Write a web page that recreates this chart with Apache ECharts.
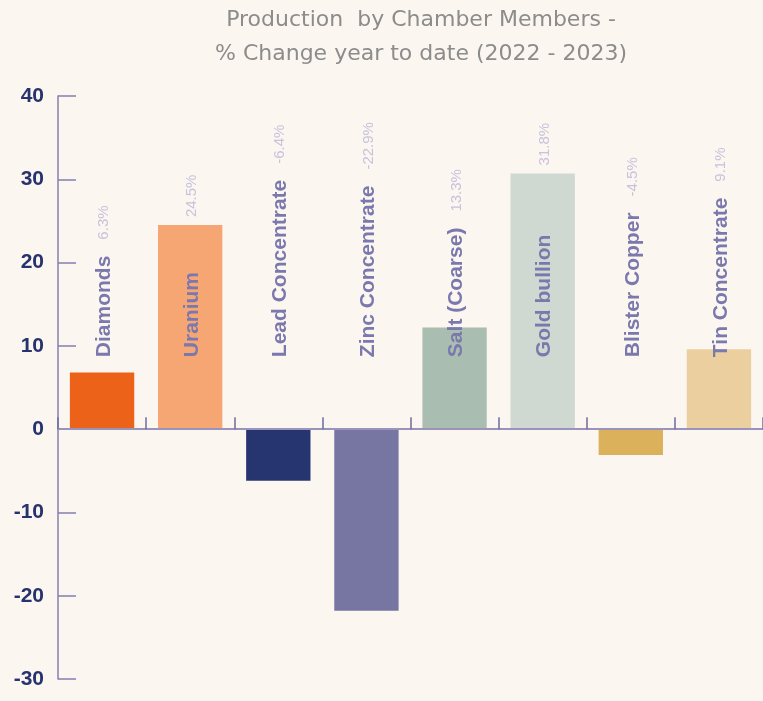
<!DOCTYPE html>
<html>
<head>
<meta charset="utf-8">
<script src="https://cdn.jsdelivr.net/npm/echarts@6/dist/echarts.min.js"></script>
<style>
    html, body { margin: 0; padding: 0; background: #fbf6f0; }
    #main { width: 763px; height: 701px; }
</style>
</head>
<body>
<div id="main"></div>
<script>
/* data */
var categories = ['Diamonds', 'Uranium', 'Lead Concentrate', 'Zinc Concentrate',
    'Salt (Coarse)', 'Gold bullion', 'Blister Copper', 'Tin Concentrate'];
var barValues = [6.8, 24.5, -6.2, -21.8, 12.2, 30.7, -3.1, 9.6];
var changeLabels = ['6.3%', '24.5%', '-6.4%', '-22.9%', '13.3%', '31.8%', '-4.5%', '9.1%'];
var barColors = ['#ec6218', '#f6a673', '#263570', '#7775a2',
    '#a9bdb0', '#cfd9d1', '#dcb15c', '#ebcf9f'];
var yTicks = [-30, -20, -10, 0, 10, 20, 30, 40];

var NAME_FONT = 'bold 21px "Liberation Sans"';
var VALUE_FONT = '15px "Liberation Sans"';

var chart = echarts.init(document.getElementById('main'));

var measureCtx = document.createElement('canvas').getContext('2d');
function textWidth(str, font) {
    measureCtx.font = font;
    return measureCtx.measureText(str).width;
}

/* rotated category name above the zero line, change label after it
   (pushed above the bar when the name sits inside a tall bar) */
function renderLabel(params, api) {
    var idx = api.value(0);
    var base = api.coord([idx, 0]);
    var top = api.coord([idx, Math.max(barValues[idx], 0)]);
    var start = base[1] - 72;
    var nameLen = textWidth(categories[idx], NAME_FONT);
    var valueY = Math.min(start - nameLen - 16, top[1] - 8);
    return {
        type: 'group',
        children: [{
            type: 'text',
            x: base[0] + 2,
            y: start,
            rotation: Math.PI / 2,
            style: {
                text: categories[idx],
                font: NAME_FONT,
                fill: '#7b78ad',
                align: 'left',
                verticalAlign: 'middle'
            }
        }, {
            type: 'text',
            x: base[0] + 2,
            y: valueY,
            rotation: Math.PI / 2,
            style: {
                text: changeLabels[idx],
                font: VALUE_FONT,
                fill: '#c7c3dc',
                align: 'left',
                verticalAlign: 'middle'
            }
        }]
    };
}

var option = {
    backgroundColor: '#fbf6f0',
    animation: false,
    title: {
        text: 'Production  by Chamber Members -\n% Change year to date (2022 - 2023)',
        left: 416,
        textAlign: 'center',
        top: -2,
        textStyle: {
            fontFamily: 'DejaVu Sans',
            fontWeight: 'normal',
            fontSize: 22,
            lineHeight: 34,
            color: '#8c8c8c'
        }
    },
    grid: { left: 58, right: -4, top: 96, bottom: 22, containLabel: false },
    xAxis: {
        type: 'category',
        data: categories,
        z: 5,
        axisLine: { lineStyle: { color: '#9a94bc', width: 2 } },
        axisTick: { show: true, inside: true, interval: 0, length: 12, lineStyle: { color: '#6f6ca0', width: 1.5 } },
        axisLabel: { show: false }
    },
    yAxis: {
        type: 'value',
        min: yTicks[0],
        max: yTicks[yTicks.length - 1],
        interval: 10,
        splitLine: { show: false },
        axisLine: { show: true, lineStyle: { color: '#8380b0', width: 1.5 } },
        axisTick: { show: true, inside: true, length: 18, lineStyle: { color: '#8380b0', width: 1.5 } },
        axisLabel: {
            margin: 14,
            fontFamily: 'Liberation Sans',
            fontWeight: 'bold',
            fontSize: 21,
            color: '#26336e'
        }
    },
    series: [{
        type: 'bar',
        barCategoryGap: '27%',
        data: barValues.map(function (v, i) {
            return { value: v, itemStyle: { color: barColors[i] } };
        })
    }, {
        type: 'custom',
        z: 10,
        silent: true,
        renderItem: renderLabel,
        data: categories.map(function (c, i) { return [i]; })
    }]
};

chart.setOption(option);
</script>
</body>
</html>
